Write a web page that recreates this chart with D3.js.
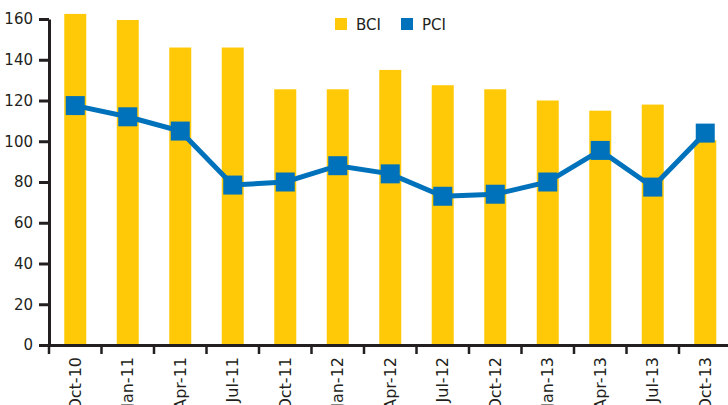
<!DOCTYPE html>
<html>
<head>
<meta charset="utf-8">
<script src="https://cdn.jsdelivr.net/npm/d3@7"></script>
<style>
  body { margin: 0; background: #fff; }
  svg text { font-family: "DejaVu Sans", sans-serif; fill: #231f20; }
</style>
</head>
<body>
<div id="container"></div>
<script>
var categories = ["Oct-10","Jan-11","Apr-11","Jul-11","Oct-11","Jan-12","Apr-12","Jul-12","Oct-12","Jan-13","Apr-13","Jul-13","Oct-13"];
var bci = [162.5, 159.5, 146, 146, 125.5, 125.5, 135, 127.5, 125.5, 120, 115, 118, 100.5];
var pci = [117.5, 112, 105, 78.5, 80, 88, 84, 73, 74, 80, 95.5, 77.5, 104];
var yTicks = [0, 20, 40, 60, 80, 100, 120, 140, 160];

var W = 728, H = 405;
var margin = {top: 19, right: 0, bottom: 60, left: 49};
var plotH = H - margin.top - margin.bottom; // 326

var svg = d3.select("#container")
    .append("svg")
        .attr("width", W)
        .attr("height", H);

var x = d3.scaleBand()
    .domain(categories)
    .range([margin.left, margin.left + 13 * 52.5])
    .paddingInner(0)
    .paddingOuter(0);

var y = d3.scaleLinear()
    .domain([0, 160])
    .range([margin.top + plotH, margin.top]);

var barW = 22;

// bars
svg.selectAll("rect.bci")
    .data(bci)
    .enter()
    .append("rect")
    .attr("class", "bci")
    .attr("x", function(d, i) { return x(categories[i]) + x.bandwidth() / 2 - barW / 2; })
    .attr("y", function(d) { return y(d); })
    .attr("width", barW)
    .attr("height", function(d) { return y(0) - y(d); })
    .attr("fill", "#ffc907");

// line
var line = d3.line()
    .x(function(d, i) { return x(categories[i]) + x.bandwidth() / 2; })
    .y(function(d) { return y(d); });

svg.append("path")
    .datum(pci)
    .attr("d", line)
    .attr("fill", "none")
    .attr("stroke", "#0072bc")
    .attr("stroke-width", 5);

var mk = 19;
svg.selectAll("rect.pci")
    .data(pci)
    .enter()
    .append("rect")
    .attr("class", "pci")
    .attr("x", function(d, i) { return x(categories[i]) + x.bandwidth() / 2 - mk / 2; })
    .attr("y", function(d) { return y(d) - mk / 2; })
    .attr("width", mk)
    .attr("height", mk)
    .attr("fill", "#0072bc");

// y axis
var yAxis = svg.append("g")
    .attr("transform", "translate(" + margin.left + ",0)")
    .call(d3.axisLeft(y).tickValues(yTicks).tickSize(10).tickPadding(6).tickSizeOuter(0));
yAxis.select(".domain").attr("stroke", "#231f20").attr("stroke-width", 3);
yAxis.selectAll(".tick line").attr("stroke", "#231f20").attr("stroke-width", 3);
yAxis.selectAll(".tick text")
    .style("font-size", "15px")
    .attr("fill", "#231f20");

// x axis
var xAxis = svg.append("g")
    .attr("transform", "translate(0," + y(0) + ")")
    .call(d3.axisBottom(x).tickSize(0).tickSizeOuter(0));
xAxis.select(".domain").attr("stroke", "#231f20").attr("stroke-width", 3);
xAxis.selectAll(".tick text")
    .style("font-size", "16px")
    .attr("fill", "#231f20")
    .attr("transform", "rotate(-90)")
    .attr("text-anchor", "end")
    .attr("x", -12)
    .attr("y", 0)
    .attr("dy", "0.35em");

// boundary ticks on the x axis
var bounds = categories.map(function(c) { return x(c); });
bounds.push(x.range()[1]);
svg.selectAll("line.xt")
    .data(bounds)
    .enter()
    .append("line")
    .attr("class", "xt")
    .attr("x1", function(d) { return d; })
    .attr("x2", function(d) { return d; })
    .attr("y1", y(0))
    .attr("y2", y(0) + 9)
    .attr("stroke", "#231f20")
    .attr("stroke-width", 2.5);

// legend
var legend = [{name: "BCI", color: "#ffc907", x: 335}, {name: "PCI", color: "#0072bc", x: 401}];
var lg = svg.selectAll("g.legend")
    .data(legend)
    .enter()
    .append("g")
    .attr("class", "legend")
    .attr("transform", function(d) { return "translate(" + d.x + ",18)"; });
lg.append("rect")
    .attr("width", 12)
    .attr("height", 12)
    .attr("fill", function(d) { return d.color; });
lg.append("text")
    .attr("x", 21)
    .attr("y", 11.5)
    .style("font-size", "15px")
    .text(function(d) { return d.name; });
</script>
</body>
</html>
